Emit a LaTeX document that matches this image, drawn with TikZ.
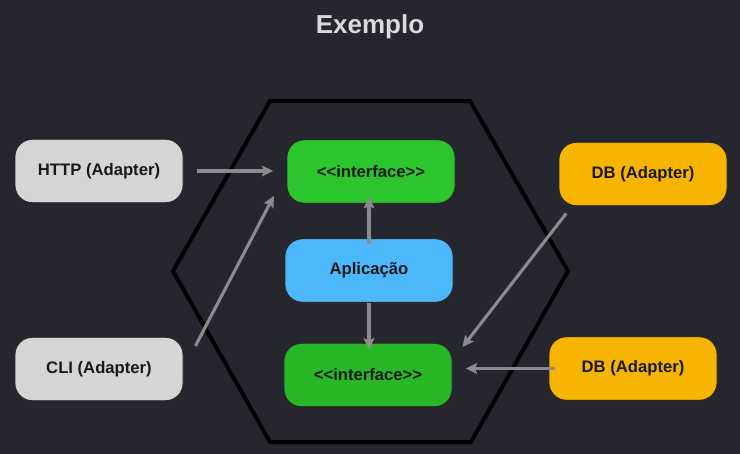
\documentclass[tikz,border=0pt]{standalone}
\usepackage{fontspec}
\setmainfont{Liberation Sans}
\usetikzlibrary{arrows.meta,positioning}

\definecolor{fundo}{RGB}{37,38,46}
\definecolor{cinzaadapter}{RGB}{214,212,213}
\definecolor{verdeint}{RGB}{45,197,45}
\definecolor{verdeint2}{RGB}{39,183,39}
\definecolor{azulapp}{RGB}{76,184,251}
\definecolor{laranjadb}{RGB}{247,180,0}
\definecolor{cinzaseta}{RGB}{140,140,142}
\definecolor{titulocor}{RGB}{218,218,220}

\begin{document}
\begin{tikzpicture}[x=0.75pt,y=-0.75pt,>={Stealth[length=8.5pt,width=8pt,inset=1.5pt]},
  caixa/.style={draw=black!85,line width=0.6pt,rounded corners=13pt,
    minimum width=126pt,minimum height=47.5pt,
    font=\fontsize{12.5}{15}\selectfont\bfseries,text=black!90},
  seta/.style={->,draw=cinzaseta,fill=cinzaseta,line width=2.3pt}]
  \fill[fundo] (0,0) rectangle (740,454);
  \useasboundingbox (0,0) rectangle (740,454);
  \node[font=\fontsize{19.5}{23}\selectfont\bfseries,text=titulocor] (titulo) at (370,27) {Exemplo};
  \draw[black,line width=3pt,line join=miter] (270,101) -- (470,101) -- (568,271) -- (471,442) -- (270,442) -- (173,271) -- cycle;
  \node[caixa,fill=cinzaadapter] (http) at (99,171) {HTTP (Adapter)};
  \node[caixa,fill=cinzaadapter] (cli) at (99,369) {CLI (Adapter)};
  \node[caixa,fill=verdeint] (intcima) at (371,171.5) {{<}{<}interface{>}{>}};
  \node[caixa,fill=azulapp] (app) at (369,270.5) {Aplicação};
  \node[caixa,fill=verdeint2] (intbaixo) at (368,375) {{<}{<}interface{>}{>}};
  \node[caixa,fill=laranjadb] (dbcima) at (643,174) {DB (Adapter)};
  \node[caixa,fill=laranjadb] (dbbaixo) at (633,368.5) {DB (Adapter)};
  \draw[seta,shorten <=10pt,shorten >=10pt] (http.east) -- (http.east -| intcima.west);
  \draw[seta,shorten <=19.5pt,shorten >=20.5pt] (cli.east) -- (intcima.west);
  \draw[seta,shorten <=-4pt,shorten >=-5pt] (app.north) -- (app.north |- intcima.south);
  \draw[seta,shorten >=-5pt] (app.south) -- (app.south |- intbaixo.north);
  \draw[seta,shorten <=7pt,shorten >=-4pt] ([xshift=10pt]dbcima.south west) -- ([xshift=10pt]intbaixo.north east);
  \draw[seta,shorten <=-5pt,shorten >=10pt] (dbbaixo.west) -- (dbbaixo.west -| intbaixo.east);
\end{tikzpicture}
\end{document}
